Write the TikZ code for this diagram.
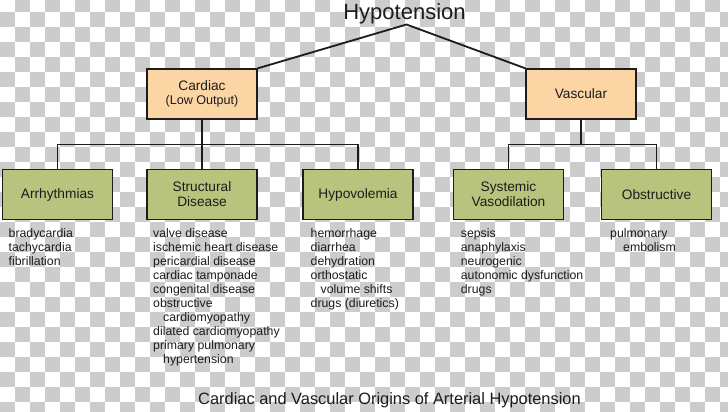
\documentclass[tikz,border=0pt]{standalone}
\usepackage{fontspec}
\setmainfont{Liberation Sans}
\definecolor{chk}{HTML}{CCCCCC}
\definecolor{peachfill}{HTML}{FCD5A5}
\definecolor{greenfill}{HTML}{B8C47D}
\definecolor{ink}{HTML}{1C1C1C}
\begin{document}
\begin{tikzpicture}[x=1pt,y=-1pt,
  boxbase/.style={draw=ink, line width=1.3pt, minimum width=110pt, minimum height=50pt,
    inner sep=0pt, align=center, text=ink, font=\fontsize{13.7}{15}\selectfont},
  topbox/.style={boxbase, fill=peachfill},
  botbox/.style={boxbase, fill=greenfill},
  listtxt/.style={anchor=base west, inner sep=0pt, align=left, text=ink,
    font=\fontsize{12.3}{14}\selectfont},
  conn/.style={draw=ink, line width=1.8pt}]
\useasboundingbox (0,0) rectangle (728,412);
\begin{scope}
\clip (0,0) rectangle (728,412);
\fill[white] (0,0) rectangle (728,412);
\foreach \r in {0,...,28}{\foreach \c in {0,...,48}{%
  \pgfmathtruncatemacro\p{\r+\c}%
  \ifodd\p \fill[chk] (\c*15,\r*15-3) rectangle ++(15,15);\fi}}
\end{scope}
% title and caption
\node[anchor=base, inner sep=0pt, text=ink, font=\fontsize{22}{24}\selectfont] (title) at (404.5,19.5) {Hypotension};
\node[anchor=base, inner sep=0pt, text=ink, font=\fontsize{16.4}{18}\selectfont] (caption) at (389.5,404) {Cardiac and Vascular Origins of Arterial Hypotension};
% top boxes
\node[topbox] (cardiac) at (202,94) {Cardiac\\[-1pt]{\fontsize{12.6}{14}\selectfont(Low Output)}};
\node[topbox] (vascular) at (581,94) {Vascular};
% bottom boxes
\node[botbox] (arr) at (57.5,194.5) {Arrhythmias};
\node[botbox] (str) at (202,194.5) {Structural\\Disease};
\node[botbox] (hyp) at (358,194.5) {Hypovolemia};
\node[botbox] (sys) at (508.5,194.5) {Systemic\\Vasodilation};
\node[botbox] (obs) at (656.5,194.5) {Obstructive};
% connectors
\coordinate (apex) at (406.5,24.5);
\coordinate (barC) at (202,144.5);
\coordinate (barV) at (581,144.5);
\draw[conn] (cardiac.north east) -- (apex) -- (vascular.north west);
\draw[conn] (cardiac.south) -- (str.north);
\draw[conn] (arr.north) |- (barC) -| (hyp.north);
\draw[conn] (vascular.south) -- (barV);
\draw[conn] (sys.north) |- (barV) -| (obs.north);
% lists (anchored at the baseline of their last line; first baseline at y=237, 14pt apart)
\node[listtxt] (larr) at (8.5,265) {bradycardia\\tachycardia\\fibrillation};
\node[listtxt] (lstr) at (153,363) {valve disease\\ischemic heart disease\\pericardial disease\\cardiac tamponade\\congenital disease\\obstructive\\\hspace*{10pt}cardiomyopathy\\dilated cardiomyopathy\\primary pulmonary\\\hspace*{10pt}hypertension};
\node[listtxt] (lhyp) at (310.5,307) {hemorrhage\\diarrhea\\dehydration\\orthostatic\\\hspace*{10pt}volume shifts\\drugs (diuretics)};
\node[listtxt] (lsys) at (460.7,293) {sepsis\\anaphylaxis\\neurogenic\\autonomic dysfunction\\drugs};
\node[listtxt] (lobs) at (610,251) {pulmonary\\\hspace*{13pt}embolism};
\end{tikzpicture}
\end{document}
